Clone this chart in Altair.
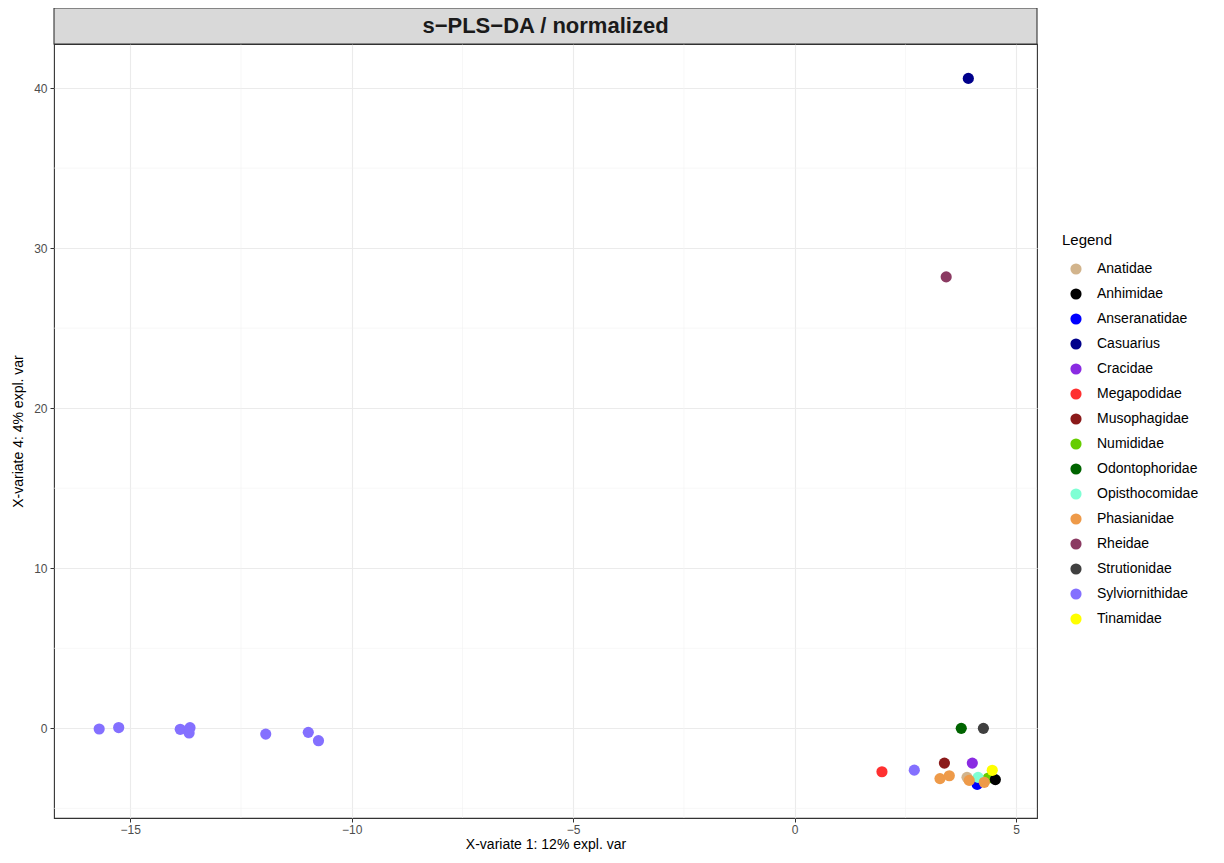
import altair as alt
import pandas as pd

families = ["Anatidae", "Anhimidae", "Anseranatidae", "Casuarius", "Cracidae",
            "Megapodidae", "Musophagidae", "Numididae", "Odontophoridae",
            "Opisthocomidae", "Phasianidae", "Rheidae", "Strutionidae",
            "Sylviornithidae", "Tinamidae"]
colors = ["#D2B48C", "#000000", "#0000FF", "#00008B", "#8A2BE2",
          "#FF3030", "#8B1A1A", "#66CD00", "#006400",
          "#7FFFD4", "#EE9A49", "#8B3A62", "#404040",
          "#8470FF", "#FFFF00"]

point_family = ["Sylviornithidae"] * 9 + [
    "Casuarius", "Rheidae", "Odontophoridae", "Strutionidae", "Megapodidae",
    "Musophagidae", "Cracidae", "Anseranatidae", "Numididae", "Anatidae",
    "Opisthocomidae", "Anhimidae", "Tinamidae",
    "Phasianidae", "Phasianidae", "Phasianidae", "Phasianidae"]
point_x = [-15.70, -15.26, -13.87, -13.65, -13.67, -11.94, -10.98, -10.75, 2.70,
           3.92, 3.42, 3.76, 4.26, 1.97,
           3.38, 4.01, 4.12, 4.37, 3.89,
           4.14, 4.53, 4.46,
           3.28, 3.49, 3.94, 4.28]
point_y = [-0.04, 0.05, -0.06, 0.04, -0.29, -0.36, -0.25, -0.77, -2.61,
           40.6, 28.2, 0.0, 0.0, -2.71,
           -2.17, -2.17, -3.50, -3.10, -3.06,
           -3.06, -3.20, -2.62,
           -3.14, -2.96, -3.25, -3.37]

x_major = [-15, -10, -5, 0, 5]
x_minor = [-12.5, -7.5, -2.5, 2.5]
y_major = [0, 10, 20, 30, 40]
y_minor = [-5, 5, 15, 25, 35]

x_domain = [-16.72, 5.47]
y_domain = [-5.6, 42.75]

W, H = 983, 774
FONT = "Liberation Sans"

df = pd.DataFrame({"family": point_family, "x": point_x, "y": point_y})
df_xminor = pd.DataFrame({"v": x_minor})
df_yminor = pd.DataFrame({"v": y_minor})

xs = alt.Scale(domain=x_domain, nice=False, zero=False)
ys = alt.Scale(domain=y_domain, nice=False, zero=False)

x_axis = alt.Axis(values=x_major, title="X-variate 1: 12% expl. var",
                  grid=True, gridColor="#EBEBEB", gridWidth=1.1,
                  domain=False, tickColor="#333333", tickSize=4, tickWidth=1,
                  labelColor="#4D4D4D", labelFontSize=12, labelFont=FONT,
                  labelPadding=2, titleFont=FONT, titleFontSize=14,
                  titleFontWeight="normal", titleColor="#000000",
                  titlePadding=2, format="d")
y_axis = alt.Axis(values=y_major, title="X-variate 4: 4% expl. var",
                  grid=True, gridColor="#EBEBEB", gridWidth=1.1,
                  domain=False, tickColor="#333333", tickSize=4, tickWidth=1,
                  labelColor="#4D4D4D", labelFontSize=12, labelFont=FONT,
                  labelPadding=3, titleFont=FONT, titleFontSize=14,
                  titleFontWeight="normal", titleColor="#000000",
                  titlePadding=8, format="d")

minor_x = alt.Chart(df_xminor).mark_rule(color="#F2F2F2", strokeWidth=0.6).encode(
    x=alt.X("v:Q", scale=xs, axis=x_axis))
minor_y = alt.Chart(df_yminor).mark_rule(color="#F2F2F2", strokeWidth=0.6).encode(
    y=alt.Y("v:Q", scale=ys, axis=y_axis))

points = alt.Chart(df).mark_circle(size=125, opacity=1).encode(
    x=alt.X("x:Q", scale=xs, axis=x_axis),
    y=alt.Y("y:Q", scale=ys, axis=y_axis),
    color=alt.Color("family:N", scale=alt.Scale(domain=families, range=colors),
                    legend=alt.Legend(title="Legend", orient="none",
                                      legendX=1008, legendY=189,
                                      symbolType="circle", symbolSize=125,
                                      symbolStrokeWidth=0, symbolOpacity=1,
                                      symbolOffset=7, labelOffset=14,
                                      labelFontSize=14, labelFont=FONT,
                                      titleFont=FONT, titleFontSize=15,
                                      titleFontWeight="normal", titlePadding=14,
                                      rowPadding=11, labelColor="#000000")),
)

strip = alt.Chart(pd.DataFrame({"t": ["s\u2212PLS\u2212DA / normalized"]})).mark_rect(
    fill="#D9D9D9", stroke="#333333", strokeWidth=1.1, clip=False
).encode(x=alt.value(0), x2=alt.value(W), y=alt.value(-36), y2=alt.value(0))

strip_text = alt.Chart(pd.DataFrame({"t": ["s\u2212PLS\u2212DA / normalized"]})).mark_text(
    font=FONT, fontSize=22, fontWeight="bold", color="#1A1A1A",
    baseline="middle", align="center", clip=False
).encode(text="t:N", x=alt.value(W / 2), y=alt.value(-18))

chart = alt.layer(minor_x, minor_y, points, strip, strip_text).properties(
    width=W, height=H,
    background="white",
    autosize=alt.AutoSizeParams(type="none"),
    padding={"left": 46, "top": 36, "right": 179, "bottom": 37},
).configure_view(stroke="#333333", strokeWidth=1.1)

chart.save("out.html", embed_options={"renderer": "svg", "actions": False})
